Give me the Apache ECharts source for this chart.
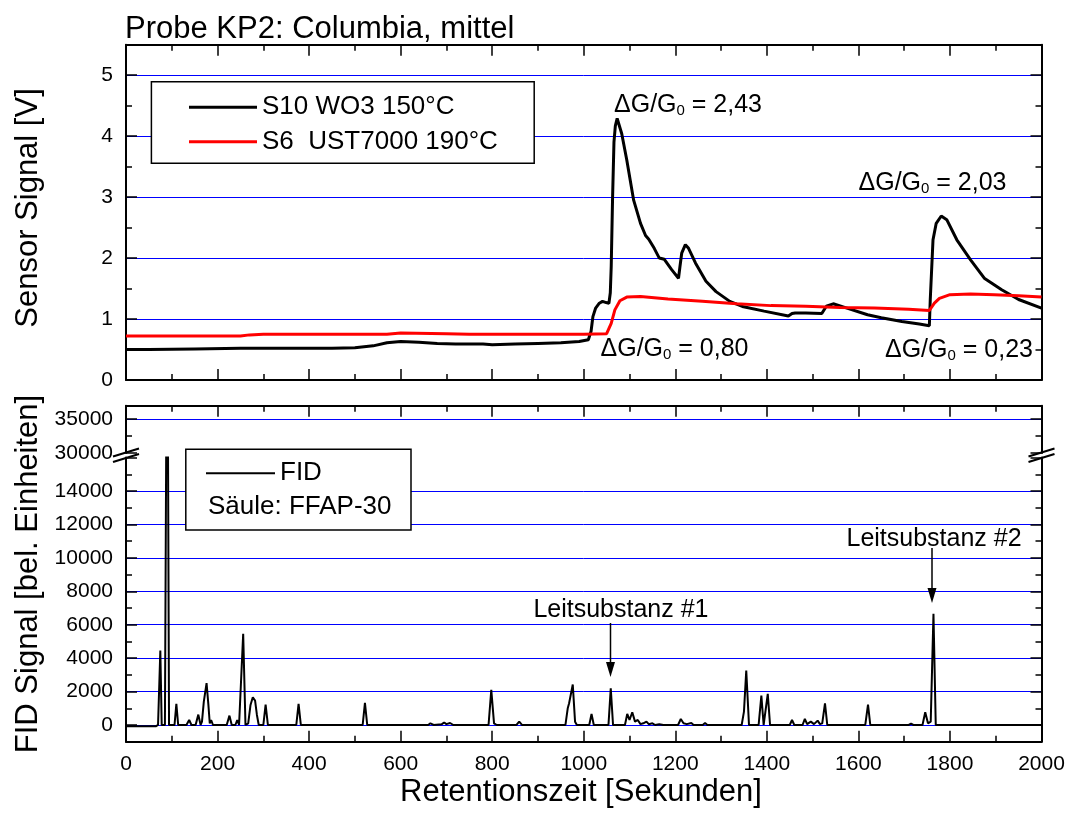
<!DOCTYPE html>
<html>
<head>
<meta charset="utf-8">
<script src="https://cdn.jsdelivr.net/npm/echarts@6/dist/echarts.min.js"></script>
<style>
html,body{margin:0;padding:0;background:#fff;}
#chart{width:1070px;height:815px;}
</style>
</head>
<body>
<div id="chart"></div>
<script>
// ---------------- data ----------------
const titleText = 'Probe KP2: Columbia, mittel';
const s10Name = 'S10 WO3 150°C';
const s6Name = 'S6  UST7000 190°C';
const fidName = 'FID';
const columnNote = 'Säule: FFAP-30';
const xAxisTitle = 'Retentionszeit [Sekunden]';
const sensorAxisTitle = 'Sensor Signal [V]';
const fidAxisTitle = 'FID Signal [bel. Einheiten]';

// [time s, signal V]
const s10Points = [
  [0,0.50],[50,0.50],[150,0.51],[250,0.52],[350,0.52],[450,0.52],[500,0.53],[540,0.56],
  [570,0.61],[600,0.63],[640,0.62],[680,0.60],[720,0.59],[780,0.59],[800,0.58],[850,0.59],
  [900,0.60],[950,0.61],[990,0.63],[1010,0.66],[1016,0.80],[1020,1.04],[1026,1.18],[1034,1.26],
  [1041,1.29],[1049,1.27],[1055,1.26],[1058,1.43],[1060,1.86],[1063,3.0],[1066,3.9],[1069,4.17],
  [1073,4.29],[1077,4.26],[1083,4.04],[1094,3.61],[1109,2.95],[1124,2.57],[1135,2.37],[1142,2.31],
  [1154,2.16],[1165,2.00],[1176,1.98],[1192,1.81],[1207,1.67],[1210,1.85],[1214,2.08],[1222,2.22],
  [1229,2.16],[1244,1.92],[1267,1.62],[1289,1.45],[1319,1.29],[1349,1.20],[1394,1.13],[1447,1.05],
  [1455,1.09],[1462,1.10],[1485,1.10],[1520,1.09],[1530,1.21],[1545,1.25],[1575,1.18],[1620,1.07],
  [1650,1.02],[1695,0.96],[1733,0.92],[1755,0.89],[1757,1.32],[1763,2.30],[1770,2.57],[1781,2.69],
  [1793,2.63],[1815,2.30],[1845,1.97],[1875,1.67],[1913,1.48],[1950,1.32],[2000,1.18]
];
const s6Points = [
  [0,0.72],[100,0.72],[200,0.72],[250,0.72],[270,0.74],[300,0.75],[400,0.75],[500,0.75],
  [570,0.75],[600,0.77],[700,0.76],[750,0.75],[900,0.75],[1000,0.75],[1050,0.76],[1054,0.78],
  [1060,0.93],[1068,1.15],[1079,1.30],[1094,1.36],[1124,1.37],[1184,1.33],[1259,1.29],[1334,1.25],
  [1409,1.22],[1485,1.21],[1560,1.19],[1635,1.18],[1710,1.16],[1755,1.14],[1766,1.26],[1777,1.34],
  [1800,1.40],[1845,1.41],[1897,1.40],[1950,1.38],[2000,1.36]
];
// [time s, FID counts]
const fidPoints = [
  [0,-80],[65,-80],[70,0],[72,0],[75,4460],[78,0],[85,0],[90,29500],[94,0],[106,0],[110,1260],[114,0],
  [132,0],[138,300],[143,0],[152,0],[158,620],[163,0],[166,200],[170,1400],[176,2500],[180,1200],
  [183,100],[186,300],[190,0],[220,0],[226,560],[231,0],[239,0],[243,300],[247,0],[251,0],[256,5460],
  [261,0],[267,100],[272,1200],[277,1660],[282,1460],[286,600],[290,0],[300,0],[305,1220],[310,0],
  [336,0],[340,100],[344,0],[372,0],[377,1260],[382,0],[517,0],[522,1320],[527,0],[555,0],[559,100],
  [563,0],[660,0],[665,100],[672,0],[690,50],[695,150],[700,50],[708,120],[715,0],[792,0],[798,2100],
  [804,100],[810,0],[853,0],[859,200],[865,0],[960,0],[965,1000],[968,1300],[976,2420],[981,200],
  [985,0],[1012,0],[1017,660],[1022,0],[1054,0],[1059,2200],[1064,0],[1090,0],[1095,660],[1100,300],
  [1106,760],[1112,200],[1118,300],[1124,50],[1130,100],[1137,200],[1142,50],[1150,100],[1156,0],
  [1165,50],[1169,160],[1174,0],[1206,0],[1212,360],[1218,100],[1225,50],[1235,120],[1240,0],
  [1260,0],[1265,120],[1270,0],[1345,0],[1350,800],[1355,3260],[1361,0],[1382,0],[1388,1760],
  [1393,0],[1397,0],[1402,1860],[1407,0],[1450,0],[1455,300],[1460,0],[1478,0],[1483,360],[1488,50],
  [1496,200],[1503,50],[1511,260],[1516,50],[1521,100],[1527,1300],[1532,0],[1615,0],[1621,1220],
  [1626,0],[1710,0],[1715,80],[1720,0],[1740,0],[1746,760],[1752,100],[1758,200],[1764,6660],
  [1769,0],[1780,0],[2000,0]
];
const deltaLabels = ['2,43', '2,03', '0,80', '0,23'];
const markerLabels = ['Leitsubstanz #1', 'Leitsubstanz #2'];

// ---------------- styling ----------------
const FONT = 'Liberation Sans, Arial, sans-serif';
const BLUE = '#0000ff';
const L = 126, R = 1070 - 1041.5;
const axLine = {show: true, onZero: false, lineStyle: {color: '#000', width: 2}};
const tick = {show: true, inside: true, length: 11, lineStyle: {color: '#000', width: 1.5}};
const minor = {show: true, splitNumber: 2, length: 6, lineStyle: {color: '#000', width: 1.5}};
const lbl = {fontFamily: FONT, fontSize: 21, color: '#000'};

function xAx(gridIndex, position, showLabel) {
  return {
    type: 'value', gridIndex, position, min: 0, max: 2000, interval: 200,
    axisLine: axLine, axisTick: tick, minorTick: minor, splitLine: {show: false},
    axisLabel: Object.assign({show: showLabel, margin: 12, formatter: v => String(v)}, lbl)
  };
}
function yAx(gridIndex, position, range, fmt, gridlines, extra) {
  return Object.assign({
    type: 'value', gridIndex, position, min: range[0], max: range[1],
    axisLine: axLine, axisTick: tick, minorTick: minor,
    splitLine: {show: gridlines, showMinLine: false, showMaxLine: false, lineStyle: {color: BLUE, width: 1}},
    axisLabel: Object.assign({show: position === 'left', margin: 13, formatter: fmt}, lbl)
  }, extra);
}

const chart = echarts.init(document.getElementById('chart'), null, {renderer: 'canvas'});

const fmtTop = v => (v <= 5 ? String(v) : '');
const fmtUp = v => (v === 30000 || v === 35000 ? String(v) : '');
const fmtLow = v => (v >= 0 && v <= 14000 ? String(v) : '');

function delta(val, x, y, align) {
  return {
    type: 'text', x, y, z: 10,
    style: {
      text: '{a|ΔG/G}{s|0}{a| = ' + val + '}',
      align: align, verticalAlign: 'bottom',
      rich: {
        a: {fontFamily: FONT, fontSize: 25, lineHeight: 42, verticalAlign: 'bottom', fill: '#000'},
        s: {fontFamily: FONT, fontSize: 15, lineHeight: 15, verticalAlign: 'bottom', fill: '#000'}
      }
    }
  };
}
function arrow(x, y0, y1) {
  return [
    {type: 'line', z: 10, shape: {x1: x, y1: y0, x2: x, y2: y1 - 10}, style: {stroke: '#000', lineWidth: 1.5}},
    {type: 'polygon', z: 10, shape: {points: [[x - 4.5, y1 - 15], [x + 4.5, y1 - 15], [x, y1]]}, style: {fill: '#000'}}
  ];
}
function brk(x) {
  return [
    {type: 'line', z: 10, shape: {x1: x - 13, y1: 456.5, x2: x + 13, y2: 448.5}, style: {stroke: '#000', lineWidth: 2}},
    {type: 'line', z: 10, shape: {x1: x - 13, y1: 462, x2: x + 13, y2: 454}, style: {stroke: '#000', lineWidth: 2}}
  ];
}

const legendText = {fontFamily: FONT, fontSize: 26, color: '#000', lineHeight: 29};

const option = {
  animation: false,
  backgroundColor: '#fff',
  grid: [
    {left: L, right: R, top: 44.7, height: 335.3, containLabel: false},
    {left: L, right: R, top: 405.7, height: 47.3, containLabel: false},
    {left: L, right: R, top: 457.6, height: 284.1, containLabel: false}
  ],
  xAxis: [
    xAx(0, 'bottom', false),
    xAx(0, 'top', false),
    xAx(1, 'top', false),
    xAx(2, 'bottom', true)
  ],
  yAxis: [
    yAx(0, 'left', [0, 5.5], fmtTop, true, {interval: 1}),
    yAx(0, 'right', [0, 5.5], fmtTop, false, {interval: 1}),
    yAx(1, 'left', [30000, 37000], fmtUp, true, {interval: 5000}),
    yAx(1, 'right', [30000, 37000], fmtUp, false, {interval: 5000}),
    yAx(2, 'left', [-1000, 16000], fmtLow, true, {minInterval: 2000, maxInterval: 2000}),
    yAx(2, 'right', [-1000, 16000], fmtLow, false, {minInterval: 2000, maxInterval: 2000})
  ],
  legend: [
    {
      data: [s10Name, s6Name], orient: 'vertical', left: 189, top: 92.8, padding: 0,
      icon: 'rect', itemWidth: 68, itemHeight: 3, itemGap: 5.4, selectedMode: false, z: 8,
      textStyle: legendText
    },
    {
      data: [fidName], orient: 'vertical', left: 206, top: 458.8, padding: 0,
      icon: 'rect', itemWidth: 69, itemHeight: 2, selectedMode: false, z: 8,
      textStyle: legendText
    }
  ],
  series: [
    {name: s10Name, type: 'line', xAxisIndex: 0, yAxisIndex: 0, data: s10Points, symbol: 'none',
     lineStyle: {color: '#000', width: 3}, itemStyle: {color: '#000'}, z: 3},
    {name: s6Name, type: 'line', xAxisIndex: 0, yAxisIndex: 0, data: s6Points, symbol: 'none',
     lineStyle: {color: '#ff0000', width: 3}, itemStyle: {color: '#ff0000'}, z: 3},
    {name: fidName, type: 'line', xAxisIndex: 3, yAxisIndex: 4, data: fidPoints, symbol: 'none',
     lineStyle: {color: '#000', width: 2}, itemStyle: {color: '#000'}, z: 3}
  ],
  graphic: [
    {type: 'text', x: 125, y: 29, z: 10, style: {text: titleText, fontFamily: FONT, fontSize: 31, fill: '#000', align: 'left', verticalAlign: 'middle'}},
    {type: 'text', x: 28.5, y: 208, rotation: Math.PI / 2, z: 10, style: {text: sensorAxisTitle, fontFamily: FONT, fontSize: 31, fill: '#000', align: 'center', verticalAlign: 'middle'}},
    {type: 'text', x: 28.5, y: 574, rotation: Math.PI / 2, z: 10, style: {text: fidAxisTitle, fontFamily: FONT, fontSize: 31, fill: '#000', align: 'center', verticalAlign: 'middle'}},
    {type: 'text', x: 581, y: 792, z: 10, style: {text: xAxisTitle, fontFamily: FONT, fontSize: 31, fill: '#000', align: 'center', verticalAlign: 'middle'}},
    {type: 'rect', z: 7, shape: {x: 151.4, y: 81.7, width: 382.8, height: 81.6}, style: {fill: '#fff', stroke: '#000', lineWidth: 1.5}},
    {type: 'rect', z: 7, shape: {x: 185.8, y: 449.3, width: 225.2, height: 80.7}, style: {fill: '#fff', stroke: '#000', lineWidth: 1.5}},
    {type: 'text', x: 208, y: 507.3, z: 10, style: {text: columnNote, fontFamily: FONT, fontSize: 26, fill: '#000', align: 'left', verticalAlign: 'middle'}},
    delta(deltaLabels[0], 614, 118, 'left'),
    delta(deltaLabels[1], 858.5, 196, 'left'),
    delta(deltaLabels[2], 600.5, 362, 'left'),
    delta(deltaLabels[3], 1033, 363, 'right'),
    {type: 'text', x: 533.4, y: 610, z: 10, style: {text: markerLabels[0], fontFamily: FONT, fontSize: 25, fill: '#000', align: 'left', verticalAlign: 'middle'}},
    {type: 'text', x: 846.5, y: 539, z: 10, style: {text: markerLabels[1], fontFamily: FONT, fontSize: 25, fill: '#000', align: 'left', verticalAlign: 'middle'}}
  ].concat(arrow(610.5, 623, 677), arrow(932, 548, 603), brk(126), brk(1041.5))
};
chart.setOption(option);
</script>
</body>
</html>
